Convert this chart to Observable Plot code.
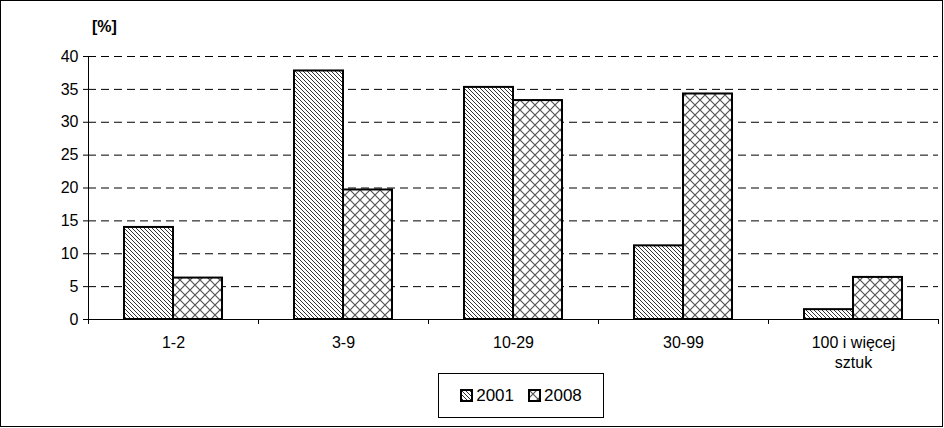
<!DOCTYPE html>
<html><head><meta charset="utf-8">
<script src="https://cdn.jsdelivr.net/npm/d3@7"></script>
<script src="https://cdn.jsdelivr.net/npm/@observablehq/plot@0.6"></script>
<style>
body{margin:0;background:#fff;font-family:"Liberation Sans",Arial,sans-serif}
#wrap{position:relative;width:944px;height:428px}
#border{position:absolute;left:0;top:0;width:941px;height:425px;border:1px solid #000;pointer-events:none}
#legend{position:absolute;left:438px;top:373px;width:166px;height:45px;border:1px solid #000;box-sizing:border-box;display:flex;align-items:center;justify-content:center;gap:14px;font-size:17px}
#legend span{display:flex;align-items:center;gap:3px}
#ylab{position:absolute;left:92px;top:18px;font-weight:bold;font-size:16px}
#chart svg text{font-size:16px}
</style></head><body>
<div id="wrap"><div id="chart"></div><div id="ylab">[%]</div>
<div id="legend"><span><svg width="13" height="13"><rect x="1" y="1" width="11" height="11" fill="url(#p2001)" stroke="#000" stroke-width="2"/></svg>2001</span><span><svg width="13" height="13"><rect x="1" y="1" width="11" height="11" fill="url(#p2008)" stroke="#000" stroke-width="2"/></svg>2008</span></div>
<div id="border"></div></div>
<script>
const categories = ["1-2","3-9","10-29","30-99","100 i więcej\nsztuk"];
const v2001 = [14.0, 37.8, 35.3, 11.2, 1.5];
const v2008 = [6.3, 19.7, 33.3, 34.3, 6.4];
const yTicks = [0,5,10,15,20,25,30,35,40];
const data = categories.map((c,i)=>({cat:c, a:v2001[i], b:v2008[i]}));
const chart = Plot.plot({
  width:944, height:428, marginLeft:88, marginRight:6, marginTop:56, marginBottom:109,
  style:{fontFamily:"Liberation Sans, Arial, sans-serif", fontSize:"16px", color:"#000", background:"transparent"},
  x:{domain:categories, padding:0, label:null},
  y:{domain:[0,40], label:null},
  marks:[
    Plot.ruleY(yTicks.slice(1), {stroke:"#000", strokeDasharray:"8,5", strokeWidth:1}),
    Plot.barY(data, {x:"cat", y:"a", fill:"url(#p2001)", stroke:"#000", strokeWidth:2, insetLeft:36, insetRight:85}),
    Plot.barY(data, {x:"cat", y:"b", fill:"url(#p2008)", stroke:"#000", strokeWidth:2, insetLeft:85, insetRight:36}),
    Plot.ruleX(categories, {x:d=>d, dx:-85, y1:0, y2:-0.75, stroke:"#000"}),
    Plot.ruleX([categories[categories.length-1]], {x:d=>d, dx:85, y1:0, y2:-0.75, stroke:"#000"}),
    Plot.axisX({tickSize:0, tickPadding:14, lineHeight:1.25}),
    Plot.axisY({ticks:yTicks, tickSize:5, tickPadding:5}),
    Plot.ruleY([0], {stroke:"#000"}),
    Plot.ruleX([0], {x:()=>categories[0], dx:-85, y1:0, y2:40, stroke:"#000"})
  ]
});
document.getElementById("chart").appendChild(chart);
const defs = d3.select(chart).insert("defs",":first-child");
const p1 = defs.append("pattern").attr("id","p2001").attr("patternUnits","userSpaceOnUse").attr("width",4).attr("height",4);
p1.append("rect").attr("width",4).attr("height",4).attr("fill","#fff");
p1.append("path").attr("d","M-1,-1L5,5M-1,3L1,5M3,-1L5,1").attr("stroke","#333").attr("stroke-width",1);
const p2 = defs.append("pattern").attr("id","p2008").attr("patternUnits","userSpaceOnUse").attr("width",10).attr("height",10);
p2.append("rect").attr("width",10).attr("height",10).attr("fill","#fff");
p2.append("path").attr("d","M0,0L10,10M10,0L0,10").attr("stroke","#555").attr("stroke-width",1.2);
</script></body></html>
